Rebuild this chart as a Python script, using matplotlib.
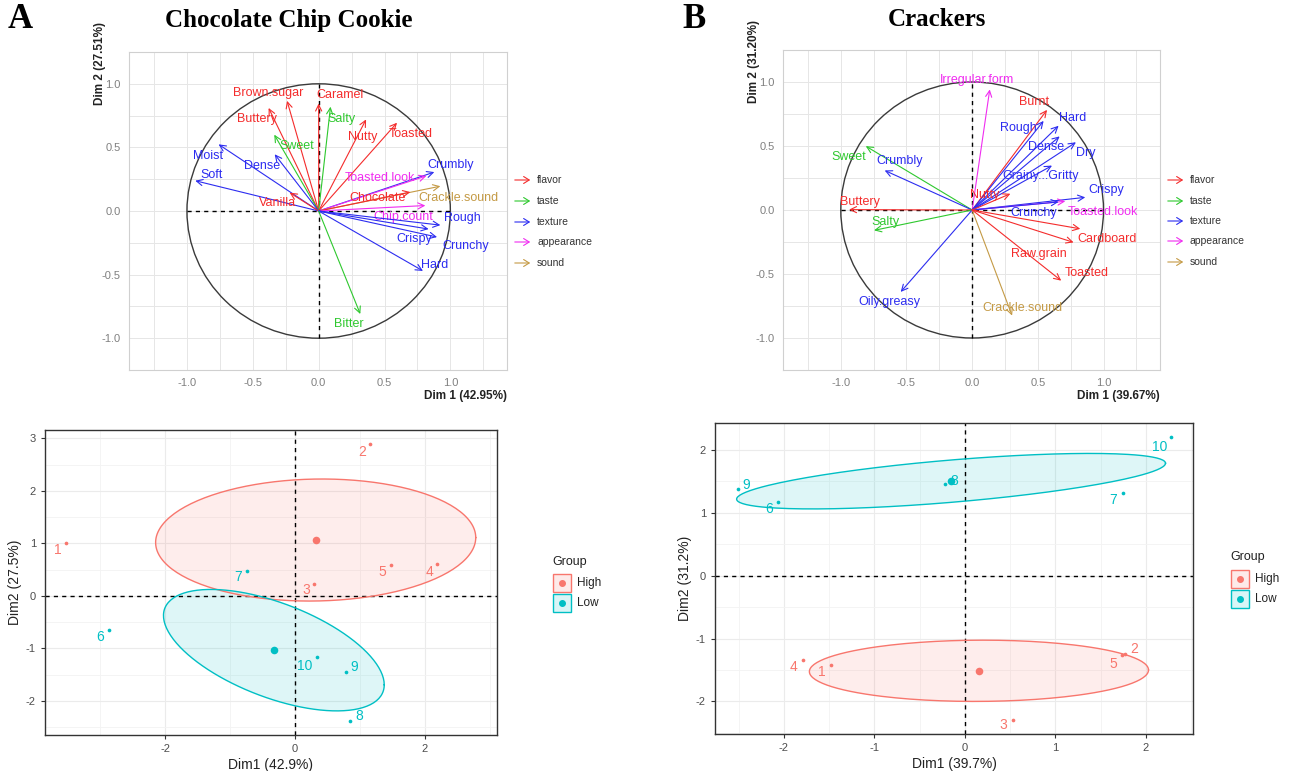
import numpy as np
import matplotlib
matplotlib.use("Agg")
import matplotlib.pyplot as plt
from matplotlib.patches import Circle, Rectangle
from matplotlib.lines import Line2D

plt.rcParams["font.family"] = ["Liberation Sans", "DejaVu Sans"]
plt.rcParams["axes.unicode_minus"] = False

# ---------------- variable maps (correlation circles) ----------------
cookie_vars = ["Brown.sugar", "Buttery", "Caramel", "Salty", "Nutty", "Toasted", "Sweet",
               "Moist", "Dense", "Soft", "Vanilla", "Crumbly", "Toasted.look",
               "Crackle.sound", "Chocolate", "Chip.count", "Rough", "Crispy",
               "Crunchy", "Hard", "Bitter"]
cookie_type = ["flavor", "flavor", "flavor", "taste", "flavor", "flavor", "taste",
               "texture", "texture", "texture", "flavor", "texture", "appearance",
               "sound", "flavor", "appearance", "texture", "texture",
               "texture", "texture", "taste"]
cookie_dim1 = [-0.24, -0.38, 0.00, 0.09, 0.36, 0.595, -0.337, -0.76, -0.334, -0.937, -0.22,
               0.878, 0.818, 0.924, 0.696, 0.81, 0.924, 0.835, 0.899, 0.792, 0.316]
cookie_dim2 = [0.866, 0.81, 0.845, 0.82, 0.72, 0.694, 0.60, 0.524, 0.446, 0.238, 0.144,
               0.306, 0.276, 0.195, 0.149, 0.043, -0.111, -0.142, -0.205, -0.471, -0.81]
cookie_lab_x = [-0.387, -0.468, 0.16, 0.17, 0.334, 0.696, -0.165, -0.843, -0.428, -0.815, -0.316,
                1.0, 0.468, 1.063, 0.448, 0.646, 1.089, 0.722, 1.114, 0.878, 0.228]
cookie_lab_y = [0.927, 0.724, 0.909, 0.727, 0.58, 0.603, 0.509, 0.433, 0.357, 0.286, 0.061,
                0.365, 0.256, 0.104, 0.099, -0.048, -0.053, -0.223, -0.273, -0.425, -0.891]

cracker_vars = ["Irregular.form", "Burnt", "Rough", "Hard", "Dense", "Dry", "Grainy...Gritty",
                "Crispy", "Toasted.look", "Crunchy", "Nutty", "Sweet", "Crumbly", "Buttery",
                "Salty", "Oily.greasy", "Crackle.sound", "Toasted", "Cardboard", "Raw.grain"]
cracker_type = ["appearance", "flavor", "texture", "texture", "texture", "texture", "texture",
                "texture", "appearance", "texture", "flavor", "taste", "texture", "flavor",
                "taste", "texture", "sound", "flavor", "flavor", "flavor"]
cracker_dim1 = [0.134, 0.570, 0.544, 0.658, 0.666, 0.79, 0.608, 0.861, 0.709, 0.658, 0.291,
                -0.81, -0.666, -0.937, -0.747, -0.544, 0.304, 0.678, 0.823, 0.772]
cracker_dim2 = [0.942, 0.782, 0.696, 0.658, 0.575, 0.529, 0.347, 0.099, 0.068, 0.063, 0.127,
                0.499, 0.309, 0.003, -0.159, -0.64, -0.825, -0.552, -0.147, -0.253]
cracker_lab_x = [0.038, 0.473, 0.349, 0.762, 0.565, 0.868, 0.519, 1.02, 0.995, 0.468, 0.094,
                 -0.937, -0.552, -0.853, -0.663, -0.633, 0.385, 0.873, 1.025, 0.506]
cracker_lab_y = [1.013, 0.846, 0.638, 0.719, 0.491, 0.448, 0.263, 0.157, -0.015, -0.025, 0.119,
                 0.415, 0.38, 0.063, -0.096, -0.716, -0.762, -0.494, -0.223, -0.344]

var_types = ["flavor", "taste", "texture", "appearance", "sound"]

# ---------------- individual maps ----------------
ind_names = ["1", "2", "3", "4", "5", "6", "7", "8", "9", "10"]
ind_group = ["High"] * 5 + ["Low"] * 5
cookie_ind_dim1 = [-3.52, 1.15, 0.29, 2.19, 1.48, -2.86, -0.74, 0.85, 0.78, 0.34]
cookie_ind_dim2 = [1.0, 2.9, 0.23, 0.61, 0.58, -0.65, 0.48, -2.39, -1.45, -1.16]
cracker_ind_dim1 = [-1.475, 1.773, 0.53, -1.79, 1.74, -2.06, 1.748, -0.22, -2.51, 2.28]
cracker_ind_dim2 = [-1.42, -1.24, -2.30, -1.35, -1.26, 1.17, 1.31, 1.46, 1.38, 2.20]

# ---------------- styles ----------------
type_colors = {"flavor": "#F42C2C", "taste": "#2EC82E", "texture": "#2C2CF0",
               "appearance": "#F02CF0", "sound": "#C49A45"}
group_colors = {"High": "#F8766D", "Low": "#00BFC4"}

# label nudges for individuals, in pixels (dx right, dy down)
cookie_nudge = [(-9, 7), (-8, 8), (-8, 6), (-8, 8), (-9, 7), (-9, 7), (-9, 6), (9, -5), (9, -5), (-12, 9)]
cracker_nudge = [(-10, 7), (9, -5), (-10, 5), (-9, 7), (-9, 9), (-9, 7), (-10, 7), (9, -3), (9, -4), (-12, 10)]

W, H = 1295, 771
fig = plt.figure(figsize=(W / 100, H / 100), dpi=100)


def box(x0, y0, x1, y1):
    return [x0 / W, 1 - y1 / H, (x1 - x0) / W, (y1 - y0) / H]


def fx(px):
    return px / W


def fy(py):
    return 1 - py / H


def conf_ellipse(x, y, level=0.95, n=200):
    # confidence ellipse around the group barycentre
    x = np.asarray(x); y = np.asarray(y)
    cov = np.cov(x, y) / len(x)
    r = np.sqrt(-2 * np.log(1 - level))
    L = np.linalg.cholesky(cov)
    t = np.linspace(0, 2 * np.pi, n)
    pts = L @ np.vstack([np.cos(t), np.sin(t)]) * r
    return x.mean() + pts[0], y.mean() + pts[1]


def var_plot(ax, names, types, d1, d2, lx, ly, xlab, ylab):
    ax.set_xlim(-1.44, 1.43)
    ax.set_ylim(-1.2, 1.2)
    major = [-1.0, -0.5, 0.0, 0.5, 1.0]
    ax.set_xticks(major)
    ax.set_yticks(major)
    ax.set_xticklabels([f"{t:.1f}" for t in major])
    ax.set_yticklabels([f"{t:.1f}" for t in major])
    ax.set_xticks(np.arange(-1.25, 1.3, 0.25), minor=True)
    ax.set_yticks(np.arange(-1.25, 1.3, 0.25), minor=True)
    ax.grid(True, which="both", color="#E6E6E6", lw=0.7)
    ax.set_axisbelow(True)
    ax.tick_params(which="both", length=0, labelsize=8, labelcolor="#808080", pad=6)
    for s in ax.spines.values():
        s.set_color("#D0D0D0")
    ax.add_patch(Circle((0, 0), 1, fill=False, ec="#3A3A3A", lw=1.0))
    ax.plot([-1, 1], [0, 0], ls=(0, (3, 3)), color="black", lw=1)
    ax.plot([0, 0], [-1, 1], ls=(0, (3, 3)), color="black", lw=1)
    for n, t, x, y, tx, ty in zip(names, types, d1, d2, lx, ly):
        c = type_colors[t]
        ax.annotate("", xy=(x, y), xytext=(0, 0),
                    arrowprops=dict(arrowstyle="->,head_length=0.45,head_width=0.22",
                                    color=c, lw=0.8, shrinkA=0, shrinkB=0))
        ax.text(tx, ty, n, color=c, fontsize=9, ha="center", va="center")
    ax.text(1.0, -0.082, xlab, transform=ax.transAxes, ha="right", va="center",
            fontsize=8.5, fontweight="bold", color="#222222")
    ax.text(-0.077, 1.094, ylab, transform=ax.transAxes, ha="center", va="top",
            rotation=90, fontsize=8.5, fontweight="bold", color="#222222")


def type_legend(x0, ys):
    for t, y in zip(var_types, ys):
        fig.add_artist(matplotlib.patches.FancyArrowPatch(
            (fx(x0), fy(y)), (fx(x0 + 21), fy(y)), transform=fig.transFigure,
            arrowstyle="->,head_length=4,head_width=2.5", color=type_colors[t], lw=0.8))
        fig.text(fx(x0 + 25), fy(y), t, fontsize=7.5, color="#333333", va="center", ha="left")


def ind_plot(ax, d1, d2, nudges, xlim, ylim, xticks, xminor, yticks, yminor, xlab, ylab):
    ax.set_xlim(*xlim)
    ax.set_ylim(*ylim)
    ax.set_xticks(xticks)
    ax.set_yticks(yticks)
    ax.set_xticks(xminor, minor=True)
    ax.set_yticks(yminor, minor=True)
    ax.grid(True, which="major", color="#EBEBEB", lw=0.8)
    ax.grid(True, which="minor", color="#F3F3F3", lw=0.6)
    ax.set_axisbelow(True)
    ax.tick_params(which="major", length=3, color="#333333", labelsize=8, labelcolor="#4D4D4D")
    ax.tick_params(which="minor", length=0)
    for s in ax.spines.values():
        s.set_color("#333333")
        s.set_linewidth(1.0)
    ax.axhline(0, ls=(0, (3, 3)), color="black", lw=1)
    ax.axvline(0, ls=(0, (3, 3)), color="black", lw=1)
    d1 = np.asarray(d1); d2 = np.asarray(d2)
    grp = np.asarray(ind_group)
    for g in ["High", "Low"]:
        c = group_colors[g]
        m = grp == g
        ex, ey = conf_ellipse(d1[m], d2[m])
        ax.fill(ex, ey, color=c, alpha=0.13, lw=0)
        ax.plot(ex, ey, color=c, lw=1.0)
        ax.scatter(d1[m], d2[m], s=7, color=c, zorder=3, lw=0)
        ax.scatter([d1[m].mean()], [d2[m].mean()], s=30, color=c, zorder=3, lw=0)
    for n, g, x, y, (dx, dy) in zip(ind_names, ind_group, d1, d2, nudges):
        ax.annotate(n, (x, y), xytext=(dx * 0.72, -dy * 0.72), textcoords="offset points",
                    ha="center", va="center", fontsize=10, color=group_colors[g])
    ax.set_xlabel(xlab, fontsize=10, color="#222222", labelpad=3)
    ax.set_ylabel(ylab, fontsize=10, color="#222222", labelpad=3)


def group_legend(x0, ytitle, ykeys):
    fig.text(fx(x0), fy(ytitle), "Group", fontsize=9, color="#222222", va="center", ha="left")
    for g, y in zip(["High", "Low"], ykeys):
        c = group_colors[g]
        fig.add_artist(Rectangle((fx(x0 + 1), fy(y + 9)), 18 / W, 18 / H, transform=fig.transFigure,
                                 facecolor=c, alpha=0.15, edgecolor="none"))
        fig.add_artist(Rectangle((fx(x0 + 1), fy(y + 9)), 18 / W, 18 / H, transform=fig.transFigure,
                                 facecolor="none", edgecolor=c, lw=1))
        fig.add_artist(Line2D([fx(x0 + 10)], [fy(y)], transform=fig.transFigure, marker="o",
                              ms=4, color=c, lw=0))
        fig.text(fx(x0 + 25), fy(y), g, fontsize=8.5, color="#222222", va="center", ha="left")


# ---- top left: cookie variables ----
ax1 = fig.add_axes(box(129, 52, 507, 370))
var_plot(ax1, cookie_vars, cookie_type, cookie_dim1, cookie_dim2, cookie_lab_x, cookie_lab_y,
         "Dim 1 (42.95%)", "Dim 2 (27.51%)")
type_legend(512, [180, 201, 222, 242, 263])

# ---- top right: cracker variables ----
ax2 = fig.add_axes(box(783, 50, 1160, 370))
var_plot(ax2, cracker_vars, cracker_type, cracker_dim1, cracker_dim2, cracker_lab_x, cracker_lab_y,
         "Dim 1 (39.67%)", "Dim 2 (31.20%)")
type_legend(1165, [180, 201, 221, 241, 262])

# ---- bottom left: cookie individuals ----
ax3 = fig.add_axes(box(45, 430, 497, 735))
ind_plot(ax3, cookie_ind_dim1, cookie_ind_dim2, cookie_nudge, (-3.85, 3.11), (-2.65, 3.16),
         [-2, 0, 2], [-3, -1, 1, 3], [-2, -1, 0, 1, 2, 3], [-2.5, -1.5, -0.5, 0.5, 1.5, 2.5],
         "Dim1 (42.9%)", "Dim2 (27.5%)")
group_legend(552, 562, [583, 603])

# ---- bottom right: cracker individuals ----
ax4 = fig.add_axes(box(715, 423, 1193, 734))
ind_plot(ax4, cracker_ind_dim1, cracker_ind_dim2, cracker_nudge, (-2.76, 2.52), (-2.52, 2.43),
         [-2, -1, 0, 1, 2], [-2.5, -1.5, -0.5, 0.5, 1.5, 2.5], [-2, -1, 0, 1, 2],
         [-2.5, -1.5, -0.5, 0.5, 1.5],
         "Dim1 (39.7%)", "Dim2 (31.2%)")
group_legend(1230, 557, [579, 599])

# ---- panel titles ----
serif = ["Liberation Serif", "DejaVu Serif"]
fig.text(fx(8), fy(20), "A", fontsize=25, fontweight="bold", family=serif, va="center", ha="left")
fig.text(fx(289), fy(20), "Chocolate Chip Cookie", fontsize=18, fontweight="bold", family=serif,
         va="center", ha="center")
fig.text(fx(682), fy(20), "B", fontsize=25, fontweight="bold", family=serif, va="center", ha="left")
fig.text(fx(937), fy(20), "Crackers", fontsize=18, fontweight="bold", family=serif,
         va="center", ha="center")

fig.savefig("out.png", dpi=100)
